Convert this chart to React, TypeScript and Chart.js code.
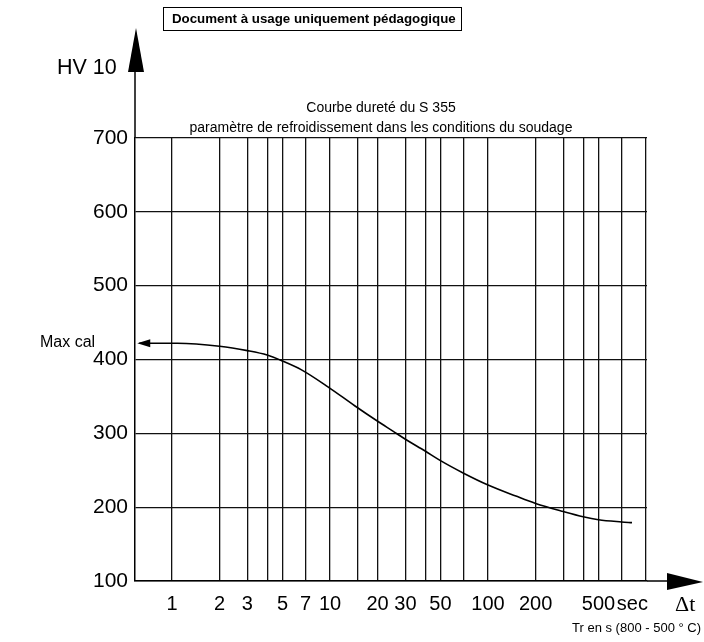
import React, { useEffect, useRef } from "react";
import { Chart, registerables } from "chart.js";

Chart.register(...registerables);

// Cooling time Δt (s) and hardness HV10
const coolingTime = [0.62, 1.08, 2.0, 3.0, 4.0, 5.0, 6.6, 9.7, 14.4, 19.8, 25, 30, 40, 50, 70, 100, 150, 200, 300, 400, 500, 700, 815];
const hardness = [422, 422, 418, 412, 406, 398, 386, 363, 337, 317, 303, 292, 276, 263, 246, 230, 215, 205, 194, 187, 183, 180, 179];

// Vertical grid lines (log scale) and labelled ticks
const xGridValues = [1, 2, 3, 4, 5, 7, 10, 15, 20, 30, 40, 50, 70, 100, 200, 300, 400, 500, 700, 1000];
const xLabelValues = [1, 2, 3, 5, 7, 10, 20, 30, 50, 100, 200, 500];
const secTickValue = 820;
const secLabel = "sec";

const yMin = 100;
const yMax = 700;
const yStep = 100;

const FONT = "'Liberation Sans', Arial, Helvetica, sans-serif";

export default function App() {
  const canvasRef = useRef<HTMLCanvasElement | null>(null);

  useEffect(() => {
    const canvas = canvasRef.current;
    if (!canvas) return;

    const axisArrows = {
      id: "axisArrows",
      afterDraw(chart: any) {
        const ctx = chart.ctx;
        const { left, top, right, bottom } = chart.chartArea;
        ctx.save();
        ctx.strokeStyle = "#000";
        ctx.fillStyle = "#000";
        ctx.lineWidth = 1.5;
        // y axis extension
        ctx.beginPath();
        ctx.moveTo(left, top);
        ctx.lineTo(left, 70);
        ctx.stroke();
        ctx.beginPath();
        ctx.moveTo(left + 1, 28);
        ctx.lineTo(left - 7, 72);
        ctx.lineTo(left + 9, 72);
        ctx.closePath();
        ctx.fill();
        // x axis extension
        ctx.beginPath();
        ctx.moveTo(right, bottom);
        ctx.lineTo(670, bottom);
        ctx.stroke();
        ctx.beginPath();
        ctx.moveTo(703, bottom + 1);
        ctx.lineTo(667, bottom - 8);
        ctx.lineTo(667, bottom + 9);
        ctx.closePath();
        ctx.fill();
        // arrow at start of curve (pointing to Max cal)
        const meta = chart.getDatasetMeta(0);
        const p0 = meta.data[0];
        if (p0) {
          ctx.beginPath();
          ctx.moveTo(p0.x - 2, p0.y);
          ctx.lineTo(p0.x + 11, p0.y - 4);
          ctx.lineTo(p0.x + 11, p0.y + 4);
          ctx.closePath();
          ctx.fill();
        }
        ctx.restore();
      },
    };

    const chart = new Chart(canvas, {
      type: "line",
      data: {
        datasets: [
          {
            data: coolingTime.map((t, i) => ({ x: t, y: hardness[i] })),
            borderColor: "#000",
            borderWidth: 1.6,
            pointRadius: 0,
            cubicInterpolationMode: "monotone",
            fill: false,
          },
        ],
      },
      options: {
        responsive: false,
        animation: false,
        layout: { padding: { left: 0, top: 138, right: 57, bottom: 31 } },
        plugins: {
          legend: { display: false },
          tooltip: { enabled: false },
          title: { display: false },
        },
        scales: {
          x: {
            type: "logarithmic",
            min: 0.583,
            max: 1014,
            afterBuildTicks: (scale: any) => {
              const vals = [...xGridValues, secTickValue].sort((a, b) => a - b);
              scale.ticks = vals.map((v) => ({ value: v }));
            },
            afterFit: (scale: any) => {
              scale.height = 30;
            },
            ticks: {
              autoSkip: false,
              maxRotation: 0,
              minRotation: 0,
              padding: 11,
              color: "#000",
              font: { family: FONT, size: 20 },
              callback: (value: any) => {
                const v = Number(value);
                if (v === secTickValue) return secLabel;
                return xLabelValues.includes(v) ? String(v) : "";
              },
            },
            grid: {
              drawTicks: false,
              lineWidth: 1.3,
              color: (ctx: any) =>
                ctx.tick && ctx.tick.value === secTickValue ? "rgba(0,0,0,0)" : "#111",
            },
            border: { display: true, color: "#000", width: 1.5 },
          },
          y: {
            type: "linear",
            min: yMin,
            max: yMax,
            afterFit: (scale: any) => {
              scale.width = 135;
            },
            ticks: {
              stepSize: yStep,
              padding: 7,
              color: "#000",
              font: { family: FONT, size: 21 },
            },
            grid: { drawTicks: false, lineWidth: 1.3, color: "#111" },
            border: { display: true, color: "#000", width: 1.5 },
          },
        },
      },
      plugins: [axisArrows],
    } as any);

    return () => chart.destroy();
  }, []);

  const abs = (s: React.CSSProperties): React.CSSProperties => ({
    position: "absolute",
    fontFamily: FONT,
    color: "#000",
    whiteSpace: "nowrap",
    lineHeight: 1,
    ...s,
  });

  return (
    <div style={{ position: "fixed", left: 0, top: 0, width: 704, height: 642, background: "#fff" }}>
      <canvas ref={canvasRef} width={704} height={642} style={{ position: "absolute", left: 0, top: 0 }} />
      <div
        style={abs({
          left: 163,
          top: 7,
          width: 299,
          height: 24,
          border: "1.5px solid #000",
          boxSizing: "border-box",
          fontSize: 13.3,
          fontWeight: "bold",
          paddingLeft: 8,
          paddingTop: 4,
        })}
      >
        Document à usage uniquement pédagogique
      </div>
      <div style={abs({ left: 57, top: 57, fontSize: 21.5 })}>HV 10</div>
      <div style={abs({ left: 181, width: 400, top: 100, fontSize: 14, textAlign: "center" })}>
        Courbe dureté du S 355
      </div>
      <div style={abs({ left: 181, width: 400, top: 120, fontSize: 14, textAlign: "center" })}>
        paramètre de refroidissement dans les conditions du soudage
      </div>
      <div style={abs({ left: 40, top: 334, fontSize: 16 })}>Max cal</div>
      <div style={abs({ left: 675, top: 593, fontSize: 22, fontFamily: "'Liberation Serif', 'Times New Roman', serif" })}>
        Δt
      </div>
      <div style={abs({ right: 3, top: 621, fontSize: 13 })}>Tr en s (800 - 500 ° C)</div>
    </div>
  );
}
